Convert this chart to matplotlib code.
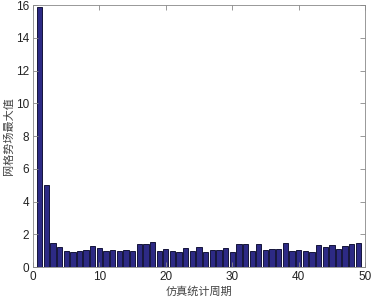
# Max potential field value per simulation cycle (bar chart)

import matplotlib
matplotlib.use('Agg')
from matplotlib import pyplot as plt

plt.rcParams['font.family'] = ['Liberation Sans', 'Noto Sans CJK SC', 'DejaVu Sans']

cycles = list(range(1, 50))
max_values = [15.9, 5.0, 1.49, 1.22, 0.96, 0.92, 0.96, 1.02, 1.31, 1.16,
              0.96, 1.06, 0.96, 1.02, 0.96, 1.41, 1.41, 1.55, 0.96, 1.08,
              0.96, 0.92, 1.14, 0.98, 1.24, 0.94, 1.02, 1.02, 1.18, 0.94,
              1.41, 1.41, 0.96, 1.43, 1.04, 1.08, 1.08, 1.47, 0.98, 1.06,
              0.96, 0.92, 1.37, 1.22, 1.37, 1.12, 1.31, 1.43, 1.47]
xticks = [0, 10, 20, 30, 40, 50]
yticks = [0, 2, 4, 6, 8, 10, 12, 14, 16]

fig = plt.figure(figsize=(3.71, 2.98), dpi=100)
ax = fig.add_axes([0.089, 0.104, 0.895, 0.879])

ax.bar(cycles, max_values, width=0.8, color='#2d2a85', edgecolor='#15153a', linewidth=0.7)

ax.set_xlim(0, 50)
ax.set_ylim(0, 16)
ax.set_xticks(xticks)
ax.set_yticks(yticks)
ax.tick_params(direction='in', top=True, right=True, length=3.5, width=0.6,
               colors='#888888', labelcolor='#222222', labelsize=8.5, pad=3)
for s in ax.spines.values():
  s.set_color('#888888')
  s.set_linewidth(0.6)

ax.set_xlabel('仿真统计周期', family=['Noto Sans CJK SC'], fontsize=8, color='#444444', labelpad=2)
ax.set_ylabel('网格势场最大值', family=['Noto Sans CJK SC'], fontsize=8, color='#444444', labelpad=1)

fig.savefig('out.png', dpi=100)
